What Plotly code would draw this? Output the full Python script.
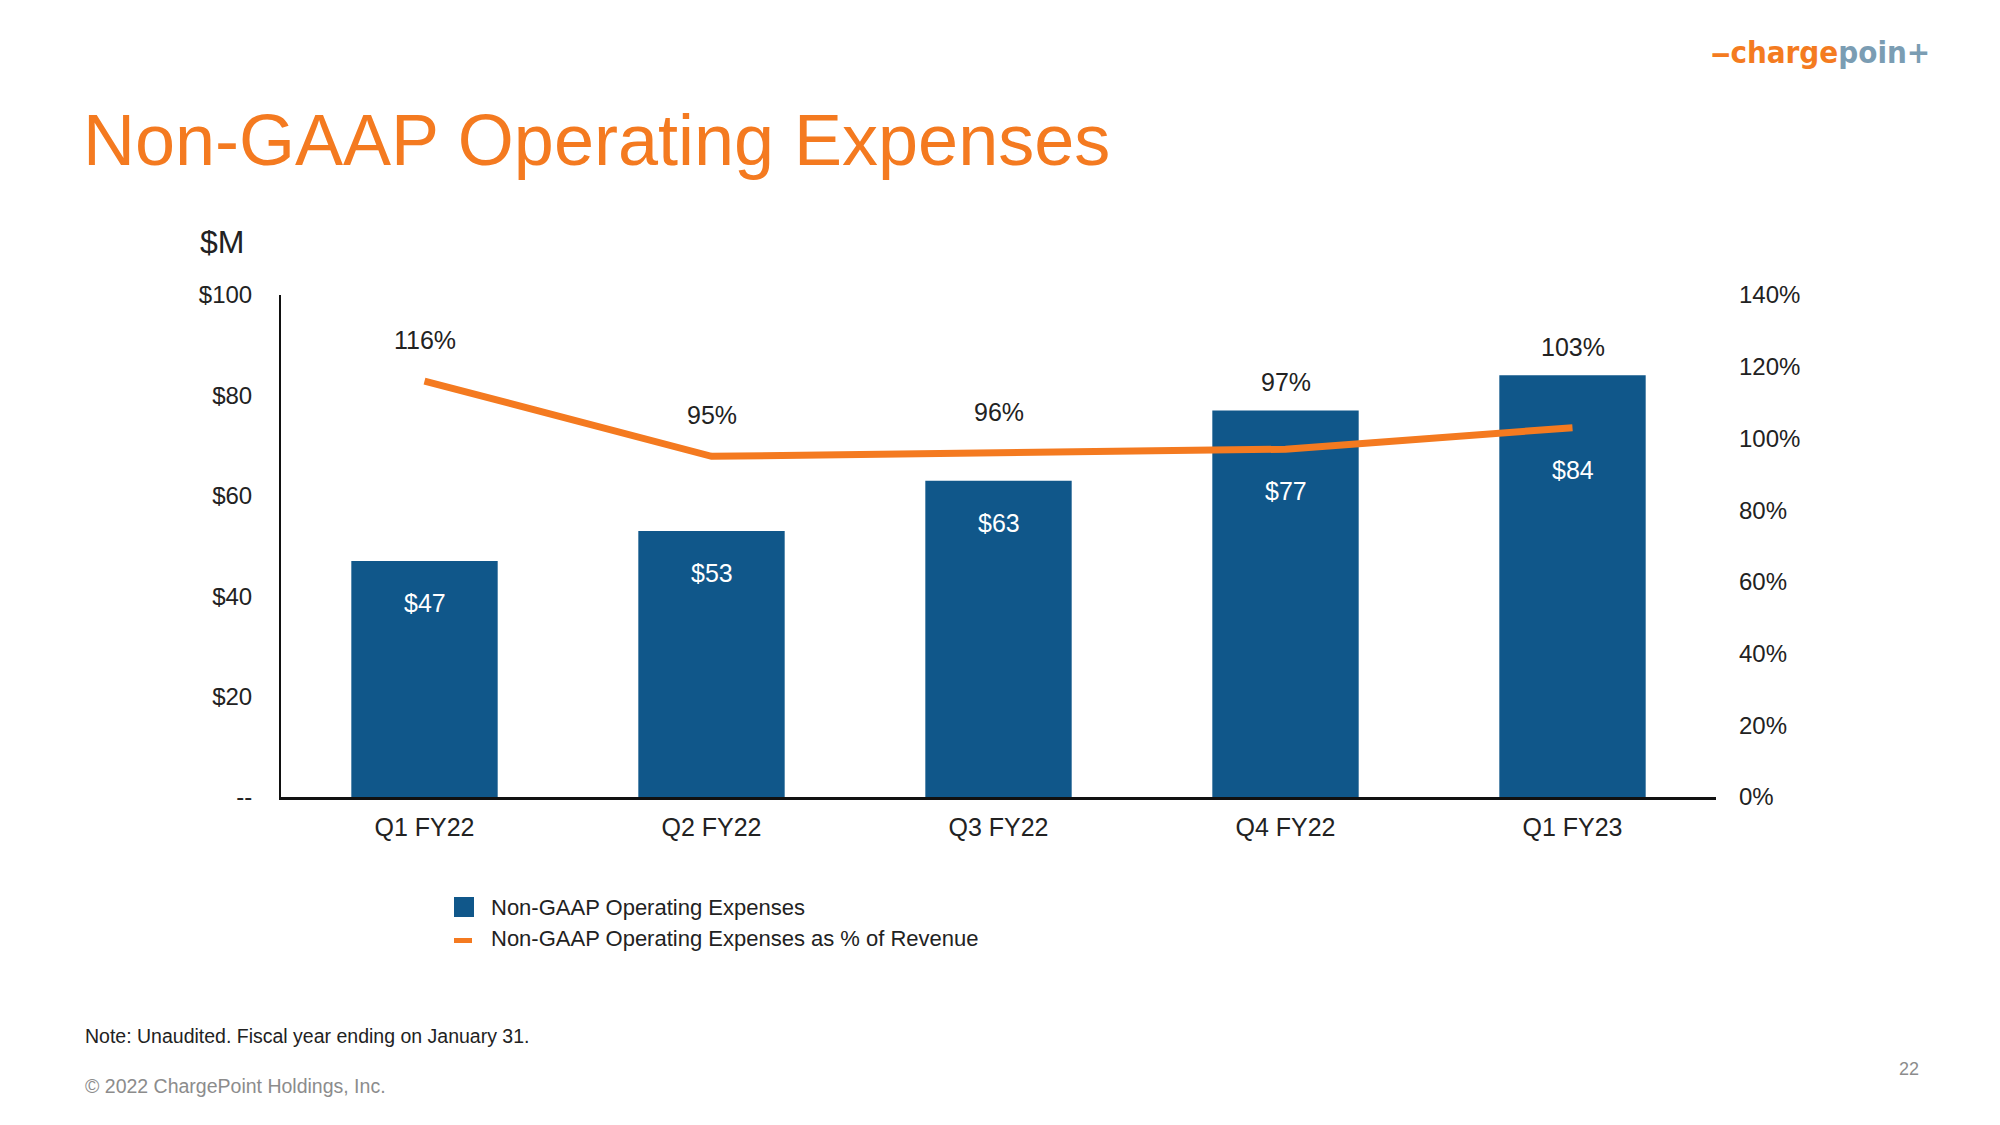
import plotly.graph_objects as go

categories = ["Q1 FY22", "Q2 FY22", "Q3 FY22", "Q4 FY22", "Q1 FY23"]
opex = [47, 53, 63, 77, 84]            # $M
opex_pct = [116, 95, 96, 97, 103]      # % of revenue
left_ticks = [0, 20, 40, 60, 80, 100]
left_tick_text = ["--", "$20", "$40", "$60", "$80", "$100"]
right_ticks = [0, 20, 40, 60, 80, 100, 120, 140]
right_tick_text = [f"{v}%" for v in right_ticks]
series_names = ["Non-GAAP Operating Expenses", "Non-GAAP Operating Expenses as % of Revenue"]

BLUE = "#10578A"
ORANGE = "#F47A20"
FONT = "Liberation Sans, Arial, sans-serif"
W, H = 2000, 1125
OFF = 8  # page body margin
PW, PH = 1435, 502
L = 281 - OFF
T = 295 - OFF
R = W - L - PW
B = H - T - PH

def px(x):
    return (x - OFF - L) / PW

def py(y):
    return (H - B - (y - OFF)) / PH

fig = go.Figure()
fig.add_trace(go.Bar(
    x=categories, y=opex, name=series_names[0],
    marker=dict(color=BLUE, line=dict(width=0)), width=0.51, yaxis="y", showlegend=False,
))
fig.add_trace(go.Scatter(
    x=categories, y=opex_pct, name=series_names[1],
    mode="lines", line=dict(color=ORANGE, width=7), yaxis="y2", showlegend=False,
))

ratio = 140 / 100
ann = []
for c, v, p in zip(categories, opex, opex_pct):
    bar_top = v * ratio
    if p >= bar_top:
        ann.append(dict(x=c, y=p, xref="x", yref="y2", text=f"{p}%", showarrow=False,
                        yshift=41, font=dict(size=25, color="#222222", family=FONT)))
    else:
        ann.append(dict(x=c, y=bar_top, xref="x", yref="y2", text=f"{p}%", showarrow=False,
                        yshift=28, font=dict(size=25, color="#222222", family=FONT)))
    lower = min(bar_top, p)
    ann.append(dict(x=c, y=lower, xref="x", yref="y2", text=f"${v}", showarrow=False,
                    yshift=-42, font=dict(size=25, color="white", family=FONT)))

ann += [
    dict(x=px(198), y=py(242), xref="paper", yref="paper", text="$M", showarrow=False,
         xanchor="left", yanchor="middle", font=dict(size=32, color="#222222", family=FONT)),
    dict(x=px(83), y=py(1036), xref="paper", yref="paper",
         text="Note: Unaudited. Fiscal year ending on January 31.", showarrow=False,
         xanchor="left", yanchor="middle", font=dict(size=19.5, color="#222222", family=FONT)),
    dict(x=px(83), y=py(1086), xref="paper", yref="paper",
         text="© 2022 ChargePoint Holdings, Inc.", showarrow=False,
         xanchor="left", yanchor="middle", font=dict(size=19.5, color="#8C8C8C", family=FONT)),
    dict(x=px(1909), y=py(1069), xref="paper", yref="paper", text="22", showarrow=False,
         xanchor="center", yanchor="middle", font=dict(size=18, color="#8C8C8C", family=FONT)),
    dict(x=px(1932), y=py(52), xref="paper", yref="paper",
         text="<b><span style='color:#F47B20'>‒charge</span><span style='color:#7B9DB3'>poin+</span></b>",
         showarrow=False, xanchor="right", yanchor="middle",
         font=dict(size=31, family="Liberation Sans Narrow, Arial Narrow, DejaVu Sans Condensed, sans-serif")),
    # legend texts
    dict(x=px(489), y=py(907), xref="paper", yref="paper", text=series_names[0], showarrow=False,
         xanchor="left", yanchor="middle", font=dict(size=22, color="#222222", family=FONT)),
    dict(x=px(489), y=py(938), xref="paper", yref="paper", text=series_names[1], showarrow=False,
         xanchor="left", yanchor="middle", font=dict(size=22, color="#222222", family=FONT)),
]

shapes = [
    dict(type="rect", xref="paper", yref="paper", x0=px(454), x1=px(474), y0=py(917), y1=py(897),
         fillcolor=BLUE, line=dict(width=0)),
    dict(type="rect", xref="paper", yref="paper", x0=px(454), x1=px(472), y0=py(943), y1=py(938),
         fillcolor=ORANGE, line=dict(width=0)),
]

fig.update_layout(
    width=W, height=H,
    margin=dict(l=L, r=R, t=T, b=B, pad=0),
    paper_bgcolor="white", plot_bgcolor="white",
    font=dict(family=FONT, color="#222222", size=24),
    title=dict(text="Non-GAAP Operating Expenses", xref="container", yref="container",
               x=(83 - OFF) / W, xanchor="left", y=1 - (140 - OFF) / H, yanchor="middle",
               font=dict(size=72, color=ORANGE, family=FONT)),
    xaxis=dict(showgrid=False, showline=True, linecolor="#111111", linewidth=3,
               ticks="", tickfont=dict(size=25, color="#222222"), ticklabelstandoff=6,
               zeroline=False),
    yaxis=dict(range=[0, 100], tickvals=left_ticks, ticktext=left_tick_text,
               showgrid=False, zeroline=False, showline=True, linecolor="#111111", linewidth=2,
               ticks="", ticklabelstandoff=22, tickfont=dict(size=24, color="#222222")),
    yaxis2=dict(range=[0, 140], tickvals=right_ticks, ticktext=right_tick_text,
                overlaying="y", side="right", showgrid=False, zeroline=False, showline=False,
                ticks="", ticklabelstandoff=22, tickfont=dict(size=24, color="#222222")),
    annotations=ann,
    shapes=shapes,
    showlegend=False,
)

fig.write_html("out.html")
